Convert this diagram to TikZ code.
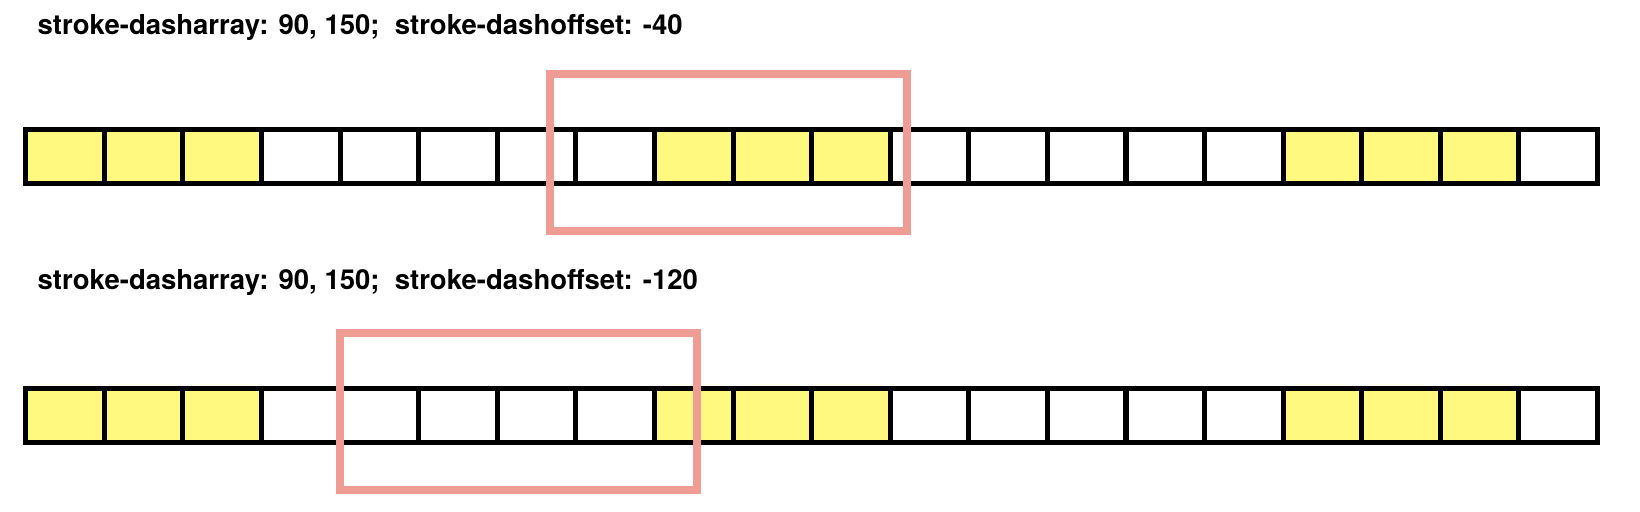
\documentclass[tikz,border=0pt]{standalone}
\usepackage{fontspec}
\setmainfont{TeX Gyre Heros}
\definecolor{dashyellow}{HTML}{FFF97F}
\definecolor{winpink}{HTML}{EF9D94}

\begin{document}
\begin{tikzpicture}[
  x=0.5pt,y=-0.5pt,
  cellbox/.style={draw=black,line width=2.5pt,minimum width=39.29pt,minimum height=26.9pt,inner sep=0pt,outer sep=0pt},
  winbox/.style={draw=winpink,line width=4pt,minimum width=178.35pt,minimum height=78.65pt,inner sep=0pt,outer sep=0pt},
  caption/.style={anchor=base west,inner sep=0pt,font=\fontsize{13.75}{16}\selectfont\bfseries}
]
  \useasboundingbox (0,0) rectangle (1640,512);

  \node[caption] (capA) at (37.3,34.5) {stroke-dasharray: 90, 150;\ \ stroke-dashoffset: -40};
  \node[caption] (capB) at (37.3,289.3) {stroke-dasharray: 90, 150;\ \ stroke-dashoffset: -120};

  % two strips of 20 cells, 3 filled out of every 8
  \foreach \i in {0,...,19}{
    \pgfmathtruncatemacro{\ph}{mod(\i,8)}
    \ifnum\ph<3 \def\cellfill{dashyellow}\else\def\cellfill{white}\fi
    \node[cellbox,fill=\cellfill] (a\i) at ({25.8+78.585*(\i+0.5)},156.5) {};
    \node[cellbox,fill=\cellfill] (b\i) at ({25.8+78.585*(\i+0.5)},415.5) {};
  }

  % visible windows
  \node[winbox] (winA) at (728.35,152.35) {};
  \node[winbox] (winB) at (518.35,411.5) {};
\end{tikzpicture}
\end{document}
